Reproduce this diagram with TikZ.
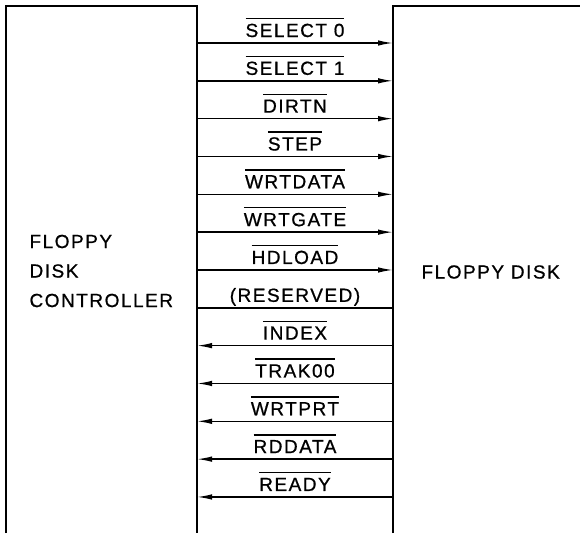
\documentclass[tikz,border=0pt]{standalone}
\usepackage{fontspec}
\setmainfont{Liberation Sans}[LetterSpace=8,FakeBold=0.8]
\usetikzlibrary{arrows.meta}
\tikzset{
  box/.style={line width=2pt},
  sigline/.style={line width=1.4pt},
  tolink/.style={sigline,-{Latex[length=15pt,width=5.5pt]}},
  fromlink/.style={sigline,{Latex[length=15pt,width=5.5pt]}-},
  siglabel/.style={anchor=base,inner sep=0pt,font=\fontsize{19}{21}\selectfont},
  blockname/.style={anchor=west,align=left,font=\fontsize{19}{29.5}\selectfont}
}
\newcommand{\lowsig}[1]{\vbox{\hrule height 1.3pt\kern 4.5pt\hbox{#1}}}

\begin{document}
\begin{tikzpicture}[x=1pt,y=-1pt]
\useasboundingbox (0,0) rectangle (580,533);
\draw[box] (6,533) -- (6,6) -- (197,6) -- (197,533);
\draw[box] (393,533) -- (393,6) -- (580,6);
\node[blockname] (ctlname) at (26,271) {FLOPPY\\DISK\\CONTROLLER};
\node[blockname] (dskname) at (418,272) {FLOPPY DISK};
\foreach \sig/\kind [count=\i from 0] in {
  {\lowsig{SELECT 0}}/tolink,
  {\lowsig{SELECT 1}}/tolink,
  {\lowsig{DIRTN}}/tolink,
  {\lowsig{STEP}}/tolink,
  {\lowsig{WRTDATA}}/tolink,
  {\lowsig{WRTGATE}}/tolink,
  {\lowsig{HDLOAD}}/tolink,
  {(RESERVED)}/sigline,
  {\lowsig{INDEX}}/fromlink,
  {\lowsig{TRAK00}}/fromlink,
  {\lowsig{WRTPRT}}/fromlink,
  {\lowsig{RDDATA}}/fromlink,
  {\lowsig{READY}}/fromlink} {
  \pgfmathsetmacro\ypos{43+37.83*\i}
  \coordinate (ctl\i) at (197,\ypos);
  \coordinate (dsk\i) at (393,\ypos);
  \draw[\kind] (ctl\i) -- (dsk\i);
  \node[siglabel] (lbl\i) at (295,\ypos-6) {\sig};
}
\end{tikzpicture}
\end{document}
